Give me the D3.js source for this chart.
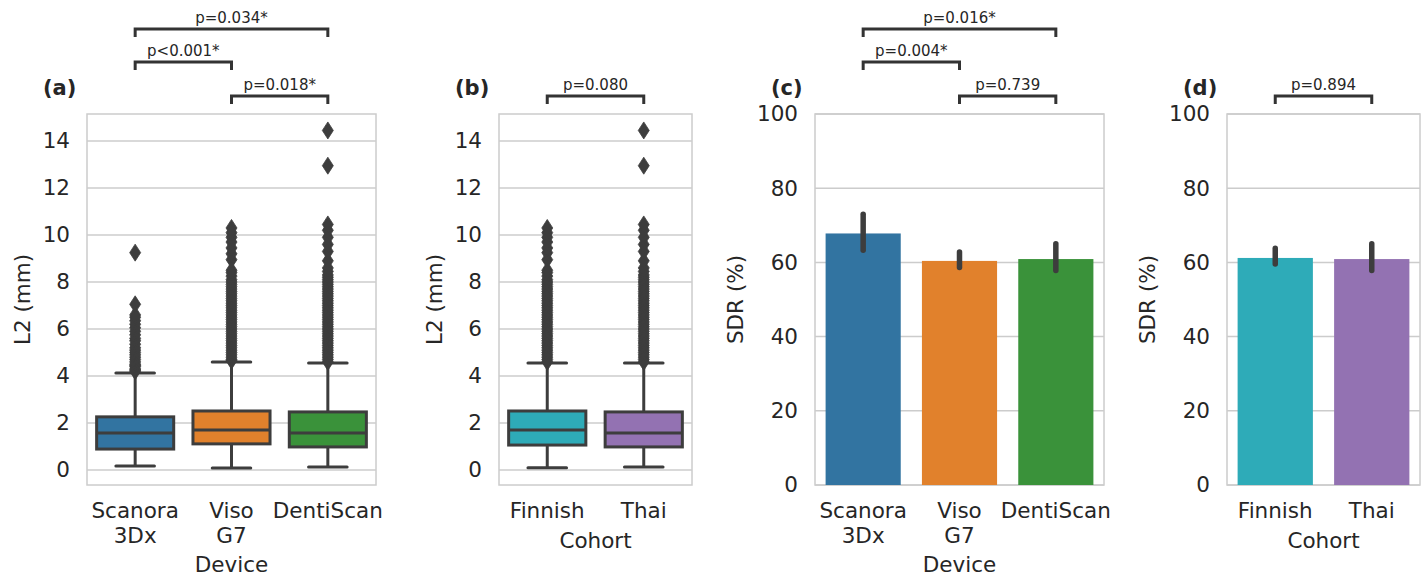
<!DOCTYPE html>
<html>
<head>
<meta charset="utf-8">
<script src="https://cdn.jsdelivr.net/npm/d3@7"></script>
<style>
  body { margin: 0; background: #fff; }
  text { font-family: 'DejaVu Sans', sans-serif; fill: #262626; }
</style>
</head>
<body>
<div id="chart"></div>
<script>
// categories
const devices = ['Scanora 3Dx', 'Viso G7', 'DentiScan']
const deviceTickLines = [['Scanora', '3Dx'], ['Viso', 'G7'], ['DentiScan']]
const cohorts = ['Finnish', 'Thai']

const colorsDevice = ['#3274a1', '#e1812c', '#3a923a']
const colorsCohort = ['#2eabb8', '#9372b2']

// box stats, L2 error (mm)
const deviceLow = [0.17, 0.08, 0.13]
const deviceQ1 = [0.89, 1.11, 0.98]
const deviceMedian = [1.57, 1.70, 1.57]
const deviceQ3 = [2.26, 2.51, 2.47]
const deviceHigh = [4.13, 4.60, 4.55]

const cohortLow = [0.09, 0.13]
const cohortQ1 = [1.06, 0.98]
const cohortMedian = [1.70, 1.57]
const cohortQ3 = [2.51, 2.47]
const cohortHigh = [4.55, 4.55]

// outliers
const scanoraOut = [4.2, 4.25, 4.3, 4.4, 4.45, 4.5, 4.6, 4.7, 4.8, 4.9, 5.0, 5.1, 5.2, 5.35, 5.5, 5.6, 5.75, 5.9, 6.05, 6.2, 6.35, 6.5, 6.6, 7.05, 9.25]
const visoOut = [4.65, 4.7, 4.8, 4.9, 5.0, 5.1, 5.2, 5.3, 5.4, 5.5, 5.6, 5.7, 5.8, 5.9, 6.0, 6.1, 6.2, 6.3, 6.4, 6.5, 6.6, 6.7, 6.8, 6.9, 7.0, 7.1, 7.2, 7.3, 7.4, 7.5, 7.6, 7.7, 7.8, 7.9, 8.0, 8.1, 8.25, 8.4, 8.5, 8.95, 9.2, 9.45, 9.7, 9.9, 10.1, 10.3]
const dentiOut = [4.6, 4.7, 4.8, 4.9, 5.0, 5.1, 5.2, 5.3, 5.4, 5.5, 5.6, 5.7, 5.8, 5.9, 6.0, 6.1, 6.2, 6.3, 6.4, 6.5, 6.6, 6.7, 6.8, 6.9, 7.0, 7.1, 7.2, 7.3, 7.4, 7.5, 7.6, 7.7, 7.8, 7.9, 8.0, 8.1, 8.2, 8.3, 8.45, 8.6, 8.9, 9.3, 9.6, 9.9, 10.2, 10.45, 12.95, 14.45]
const finnishOut = [4.6, 4.7, 4.8, 4.9, 5.0, 5.1, 5.2, 5.3, 5.4, 5.5, 5.6, 5.7, 5.8, 5.9, 6.0, 6.1, 6.2, 6.3, 6.4, 6.5, 6.6, 6.7, 6.8, 6.9, 7.0, 7.1, 7.2, 7.3, 7.4, 7.5, 7.6, 7.7, 7.8, 7.9, 8.0, 8.1, 8.25, 8.4, 8.5, 8.95, 9.25, 9.45, 9.7, 9.9, 10.1, 10.3]
const thaiOut = dentiOut

// SDR (%) with 95% CI
const deviceSDR = [67.8, 60.4, 60.9]
const deviceSDRLow = [63.3, 58.6, 57.8]
const deviceSDRHigh = [73.0, 62.8, 65.0]
const cohortSDR = [61.2, 60.9]
const cohortSDRLow = [59.6, 57.8]
const cohortSDRHigh = [63.8, 65.0]

// significance tests [from, to, label]
const deviceL2Tests = [[1, 2, 'p=0.018*'], [0, 1, 'p<0.001*'], [0, 2, 'p=0.034*']]
const cohortL2Tests = [[0, 1, 'p=0.080']]
const deviceSDRTests = [[1, 2, 'p=0.739'], [0, 1, 'p=0.004*'], [0, 2, 'p=0.016*']]
const cohortSDRTests = [[0, 1, 'p=0.894']]

const l2Ticks = [0, 2, 4, 6, 8, 10, 12, 14]
const sdrTicks = [0, 20, 40, 60, 80, 100]

const W = 1422, H = 577
const plotTop = 114, plotBottom = 485
const dark = '#3d3d3d'
const gridColor = '#cccccc'
const fs = '21.5px'

const svg = d3.select('#chart').append('svg')
  .attr('width', W).attr('height', H)

function frame(x0, x1, y, ticks, letter, yLabel, yLabelOff, xLabel, tickLines, cats, labelY) {
  const g = svg.append('g')
  // grid
  g.selectAll('.grid').data(ticks).enter().append('line')
    .attr('x1', x0).attr('x2', x1)
    .attr('y1', d => y(d)).attr('y2', d => y(d))
    .attr('stroke', gridColor).attr('stroke-width', 1.5)
  g.append('rect')
    .attr('x', x0).attr('y', plotTop).attr('width', x1 - x0).attr('height', plotBottom - plotTop)
    .attr('fill', 'none').attr('stroke', gridColor).attr('stroke-width', 1.5)

  const yAxis = d3.axisLeft(y).tickValues(ticks).tickSize(0).tickPadding(17)
  const ya = g.append('g').attr('transform', 'translate(' + x0 + ',0)').call(yAxis)
  ya.select('.domain').remove()
  ya.selectAll('text').attr('font-size', fs).attr('fill', '#262626')
    .attr('font-family', 'DejaVu Sans')

  const x = d3.scaleBand().domain(cats).range([x0, x1])
  cats.forEach((c, i) => {
    const t = g.append('text')
      .attr('text-anchor', 'middle')
      .attr('font-size', fs)
      .attr('x', x(c) + x.bandwidth() / 2)
      .attr('y', 518)
    tickLines[i].forEach((line, j) => {
      t.append('tspan').attr('x', x(c) + x.bandwidth() / 2).attr('dy', j === 0 ? 0 : 25).text(line)
    })
  })

  g.append('text')
    .attr('text-anchor', 'middle')
    .attr('font-size', fs)
    .attr('x', (x0 + x1) / 2)
    .attr('y', labelY)
    .text(xLabel)

  g.append('text')
    .attr('text-anchor', 'middle')
    .attr('font-size', fs)
    .attr('dy', '0.35em')
    .attr('transform', 'translate(' + (x0 - yLabelOff) + ',' + ((plotTop + plotBottom) / 2) + ') rotate(-90)')
    .text(yLabel)

  g.append('text')
    .attr('x', x0 - 44).attr('y', 95)
    .attr('font-size', '21px').attr('font-weight', 'bold')
    .text(letter)

  return x
}

function brackets(x, cats, tests) {
  const levelY = [96, 62, 29]
  tests.forEach((t, i) => {
    const xa = x(cats[t[0]]) + x.bandwidth() / 2
    const xb = x(cats[t[1]]) + x.bandwidth() / 2
    const yy = levelY[i]
    svg.append('path')
      .attr('d', `M${xa},${yy + 8}V${yy}H${xb}V${yy + 8}`)
      .attr('fill', 'none').attr('stroke', '#333').attr('stroke-width', 3)
    svg.append('text')
      .attr('x', (xa + xb) / 2).attr('y', yy - 6)
      .attr('text-anchor', 'middle').attr('font-size', '15px')
      .text(t[2])
  })
}

const diamond = 'M0,-8.5L5.5,0L0,8.5L-5.5,0Z'

function boxes(x, y, cats, lo, q1, med, q3, hi, outs, colors) {
  const bw = x.bandwidth() * 0.8
  cats.forEach((c, i) => {
    const cx = x(c) + x.bandwidth() / 2
    const g = svg.append('g')
    g.append('line').attr('x1', cx).attr('x2', cx).attr('y1', y(hi[i])).attr('y2', y(q3[i]))
      .attr('stroke', dark).attr('stroke-width', 3)
    g.append('line').attr('x1', cx).attr('x2', cx).attr('y1', y(q1[i])).attr('y2', y(lo[i]))
      .attr('stroke', dark).attr('stroke-width', 3)
    ;[hi[i], lo[i]].forEach(v => {
      g.append('line').attr('x1', cx - bw / 4).attr('x2', cx + bw / 4)
        .attr('y1', y(v)).attr('y2', y(v))
        .attr('stroke', dark).attr('stroke-width', 3).attr('stroke-linecap', 'round')
    })
    g.append('rect')
      .attr('x', cx - bw / 2).attr('width', bw)
      .attr('y', y(q3[i])).attr('height', y(q1[i]) - y(q3[i]))
      .attr('fill', colors[i]).attr('stroke', dark).attr('stroke-width', 3)
    g.append('line').attr('x1', cx - bw / 2).attr('x2', cx + bw / 2)
      .attr('y1', y(med[i])).attr('y2', y(med[i]))
      .attr('stroke', dark).attr('stroke-width', 3)
    g.selectAll('.out').data(outs[i]).enter().append('path')
      .attr('d', diamond)
      .attr('transform', d => 'translate(' + cx + ',' + y(d) + ')')
      .attr('fill', dark).attr('stroke', dark).attr('stroke-width', 0.8)
  })
}

function bars(x, y, cats, vals, lo, hi, colors) {
  const bw = x.bandwidth() * 0.78
  cats.forEach((c, i) => {
    const cx = x(c) + x.bandwidth() / 2
    svg.append('rect')
      .attr('x', cx - bw / 2).attr('width', bw)
      .attr('y', y(vals[i])).attr('height', y(0) - y(vals[i]))
      .attr('fill', colors[i])
    svg.append('line')
      .attr('x1', cx).attr('x2', cx)
      .attr('y1', y(lo[i])).attr('y2', y(hi[i]))
      .attr('stroke', dark).attr('stroke-width', 5.5).attr('stroke-linecap', 'round')
  })
}

const yL2 = d3.scaleLinear().domain([-0.64, 15.15]).range([plotBottom, plotTop])
const ySDR = d3.scaleLinear().domain([0, 100]).range([plotBottom, plotTop])

// (a)
const xa = frame(87, 376, yL2, l2Ticks, '(a)', 'L2 (mm)', 65, 'Device', deviceTickLines, devices, 572)
boxes(xa, yL2, devices, deviceLow, deviceQ1, deviceMedian, deviceQ3, deviceHigh,
  [scanoraOut, visoOut, dentiOut], colorsDevice)
brackets(xa, devices, deviceL2Tests)

// (b)
const xb = frame(499, 692, yL2, l2Ticks, '(b)', 'L2 (mm)', 65, 'Cohort', cohorts.map(c => [c]), cohorts, 548)
boxes(xb, yL2, cohorts, cohortLow, cohortQ1, cohortMedian, cohortQ3, cohortHigh,
  [finnishOut, thaiOut], colorsCohort)
brackets(xb, cohorts, cohortL2Tests)

// (c)
const xc = frame(815, 1104, ySDR, sdrTicks, '(c)', 'SDR (%)', 80, 'Device', deviceTickLines, devices, 572)
bars(xc, ySDR, devices, deviceSDR, deviceSDRLow, deviceSDRHigh, colorsDevice)
brackets(xc, devices, deviceSDRTests)

// (d)
const xd = frame(1227, 1420, ySDR, sdrTicks, '(d)', 'SDR (%)', 80, 'Cohort', cohorts.map(c => [c]), cohorts, 548)
bars(xd, ySDR, cohorts, cohortSDR, cohortSDRLow, cohortSDRHigh, colorsCohort)
brackets(xd, cohorts, cohortSDRTests)
</script>
</body>
</html>
